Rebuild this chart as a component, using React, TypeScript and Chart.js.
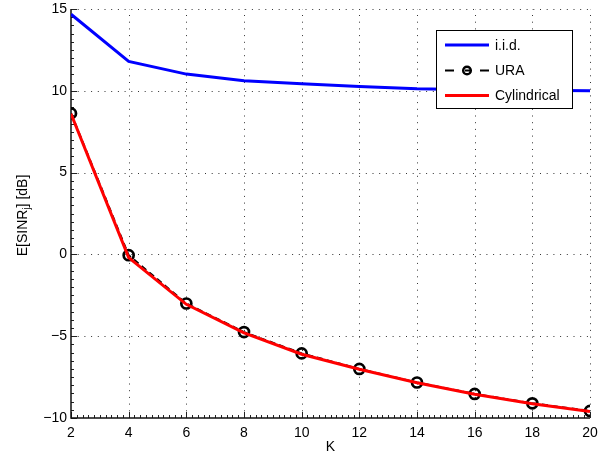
import React, { useEffect, useRef } from "react";
import { Chart, registerables } from "chart.js";

Chart.register(...registerables);

const K = [2, 4, 6, 8, 10, 12, 14, 16, 18, 20];
const iid = [14.68, 11.8, 11.02, 10.62, 10.43, 10.27, 10.13, 10.07, 10.03, 10.0];
const ura = [8.62, -0.05, -3.0, -4.75, -6.05, -7.0, -7.83, -8.53, -9.1, -9.57];
const cyl = [8.6, -0.2, -3.05, -4.8, -6.1, -7.02, -7.85, -8.55, -9.13, -9.6];
const xTicks = [2, 4, 6, 8, 10, 12, 14, 16, 18, 20];
const yTicks = [-10, -5, 0, 5, 10, 15];
const legendLabels = ["i.i.d.", "URA", "Cylindrical"];
const xTitle = "K";

const FONT = "'Liberation Sans', Arial, Helvetica, sans-serif";

const framePlugin = {
  id: "frame",
  beforeDatasetsDraw(chart: any) {
    const { ctx, chartArea: a, scales } = chart;
    const xs = scales.x;
    const ys = scales.y;
    ctx.save();
    ctx.strokeStyle = "#333";
    ctx.lineWidth = 1;
    ctx.setLineDash([1, 5.7]);
    xTicks.forEach((v) => {
      if (v === xTicks[0]) return;
      const px = Math.round(xs.getPixelForValue(v)) + 0.5;
      ctx.beginPath();
      ctx.moveTo(px, a.bottom);
      ctx.lineTo(px, a.top);
      ctx.stroke();
    });
    yTicks.forEach((v) => {
      if (v === yTicks[0]) return;
      const py = Math.round(ys.getPixelForValue(v)) + 0.5;
      ctx.beginPath();
      ctx.moveTo(a.left, py);
      ctx.lineTo(a.right, py);
      ctx.stroke();
    });
    ctx.setLineDash([]);
    ctx.strokeStyle = "#222";
    ctx.lineWidth = 1;
    for (let i = 0; i <= 90; i++) {
      const v = 2 + i * 0.2;
      const px = Math.round(xs.getPixelForValue(v)) + 0.5;
      ctx.beginPath();
      ctx.moveTo(px, a.bottom);
      ctx.lineTo(px, a.bottom - 3);
      ctx.stroke();
    }
    for (let i = 0; i <= 50; i++) {
      const v = -10 + i * 0.5;
      const py = Math.round(ys.getPixelForValue(v)) + 0.5;
      ctx.beginPath();
      ctx.moveTo(a.left, py);
      ctx.lineTo(a.left + 3, py);
      ctx.stroke();
    }
    xTicks.forEach((v) => {
      const px = Math.round(xs.getPixelForValue(v)) + 0.5;
      ctx.beginPath();
      ctx.moveTo(px, a.bottom);
      ctx.lineTo(px, a.bottom - 6);
      ctx.stroke();
    });
    yTicks.forEach((v) => {
      const py = Math.round(ys.getPixelForValue(v)) + 0.5;
      ctx.beginPath();
      ctx.moveTo(a.left, py);
      ctx.lineTo(a.left + 6, py);
      ctx.stroke();
    });
    ctx.strokeStyle = "#111";
    ctx.lineWidth = 1.5;
    ctx.beginPath();
    ctx.moveTo(a.left, a.top);
    ctx.lineTo(a.left, a.bottom);
    ctx.lineTo(a.right, a.bottom);
    ctx.stroke();
    ctx.restore();
  },
  afterDraw(chart: any) {
    const { ctx, chartArea: a } = chart;
    ctx.save();
    ctx.fillStyle = "#000";
    ctx.font = `14px ${FONT}`;
    ctx.textAlign = "center";
    ctx.textBaseline = "middle";
    ctx.fillText(xTitle, (a.left + a.right) / 2, 447);
    ctx.translate(22, (a.top + a.bottom) / 2 + 2);
    ctx.rotate(-Math.PI / 2);
    const f1 = `14px ${FONT}`;
    const f2 = `10px ${FONT}`;
    const p1 = "E[SINR";
    const p2 = "j";
    const p3 = "] [dB]";
    ctx.font = f1;
    const w1 = ctx.measureText(p1).width;
    const w3 = ctx.measureText(p3).width;
    ctx.font = f2;
    const w2 = ctx.measureText(p2).width;
    const total = w1 + w2 + w3;
    const x0 = -total / 2;
    ctx.textAlign = "left";
    ctx.textBaseline = "alphabetic";
    ctx.font = f1;
    ctx.fillText(p1, x0, 5);
    ctx.font = f2;
    ctx.fillText(p2, x0 + w1, 8);
    ctx.font = f1;
    ctx.fillText(p3, x0 + w1 + w2, 5);
    ctx.restore();

    ctx.save();
    const lx = 436.5, ly = 30.5, lw = 136, lh = 78;
    ctx.fillStyle = "#fff";
    ctx.fillRect(lx, ly, lw, lh);
    ctx.strokeStyle = "#000";
    ctx.lineWidth = 1;
    ctx.strokeRect(lx, ly, lw, lh);
    const rows = [45, 70.5, 95.5];
    const l0 = 445, l1 = 489;
    ctx.strokeStyle = "#0000ff";
    ctx.lineWidth = 3;
    ctx.beginPath();
    ctx.moveTo(l0, rows[0]);
    ctx.lineTo(l1, rows[0]);
    ctx.stroke();
    ctx.strokeStyle = "#000";
    ctx.lineWidth = 2;
    ctx.beginPath();
    ctx.moveTo(l0, rows[1]);
    ctx.lineTo(l0 + 9, rows[1]);
    ctx.moveTo(l1 - 9, rows[1]);
    ctx.lineTo(l1, rows[1]);
    ctx.moveTo(l0 + 20, rows[1]);
    ctx.lineTo(l0 + 25, rows[1]);
    ctx.stroke();
    ctx.lineWidth = 2.5;
    ctx.beginPath();
    ctx.arc((l0 + l1) / 2, rows[1], 3.8, 0, Math.PI * 2);
    ctx.stroke();
    ctx.strokeStyle = "#ff0000";
    ctx.lineWidth = 3;
    ctx.beginPath();
    ctx.moveTo(l0, rows[2]);
    ctx.lineTo(l1, rows[2]);
    ctx.stroke();
    ctx.fillStyle = "#000";
    ctx.font = `14px ${FONT}`;
    ctx.textAlign = "left";
    ctx.textBaseline = "middle";
    legendLabels.forEach((t, i) => ctx.fillText(t, 495, rows[i] + 1));
    ctx.restore();
  },
};

export default function App() {
  const ref = useRef<HTMLCanvasElement | null>(null);
  useEffect(() => {
    document.body.style.margin = "0";
    const canvas = ref.current!;
    const chart = new Chart(canvas, {
      type: "line",
      data: {
        labels: K,
        datasets: [
          {
            label: legendLabels[0],
            data: K.map((k, i) => ({ x: k, y: iid[i] })),
            borderColor: "#0000ff",
            borderWidth: 3,
            pointRadius: 0,
            fill: false,
            tension: 0,
            order: 2,
          },
          {
            label: legendLabels[1],
            data: K.map((k, i) => ({ x: k, y: ura[i] })),
            borderColor: "#000",
            borderWidth: 2,
            borderDash: [6, 4],
            pointRadius: 5,
            pointBorderWidth: 2.7,
            pointBorderColor: "#000",
            pointBackgroundColor: "rgba(0,0,0,0)",
            pointStyle: "circle",
            fill: false,
            tension: 0,
            order: 1,
          },
          {
            label: legendLabels[2],
            data: K.map((k, i) => ({ x: k, y: cyl[i] })),
            borderColor: "#ff0000",
            borderWidth: 3,
            pointRadius: 0,
            fill: false,
            tension: 0,
            order: 0,
          },
        ],
      },
      options: {
        animation: false,
        responsive: false,
        devicePixelRatio: 1,
        events: [],
        layout: { padding: { top: 9, right: 21, left: 0, bottom: 0 } },
        plugins: { legend: { display: false }, tooltip: { enabled: false } },
        scales: {
          x: {
            type: "linear",
            min: 2,
            max: 20,
            afterBuildTicks: (s: any) => {
              s.ticks = xTicks.map((v) => ({ value: v }));
            },
            afterFit: (s: any) => {
              s.height = 38;
              s.paddingLeft = 0;
              s.paddingRight = 0;
            },
            grid: { display: false, drawTicks: false },
            border: { display: false },
            ticks: {
              color: "#000",
              font: { family: FONT, size: 14 },
              padding: 7,
              maxRotation: 0,
              autoSkip: false,
            },
          },
          y: {
            type: "linear",
            min: -10,
            max: 15,
            afterBuildTicks: (s: any) => {
              s.ticks = yTicks.map((v) => ({ value: v }));
            },
            afterFit: (s: any) => {
              s.width = 71;
              s.paddingTop = 0;
              s.paddingBottom = 0;
            },
            grid: { display: false, drawTicks: false },
            border: { display: false },
            ticks: {
              color: "#000",
              font: { family: FONT, size: 14 },
              padding: 4,
              callback: (v: any) => (Number(v) < 0 ? "\u2212" + Math.abs(Number(v)) : String(v)),
            },
          },
        },
      },
      plugins: [framePlugin],
    });
    return () => chart.destroy();
  }, []);
  return (
    <div style={{ width: 611, height: 456, background: "#fff" }}>
      <canvas ref={ref} width={611} height={456} style={{ display: "block" }} />
    </div>
  );
}
